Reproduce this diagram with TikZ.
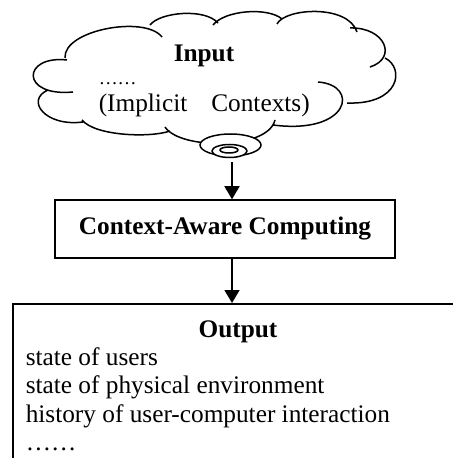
\documentclass[tikz,border=0pt]{standalone}
\usepackage{fontspec}
\setmainfont{Liberation Serif}
\usetikzlibrary{arrows.meta,shapes.geometric}
\begin{document}
\begin{tikzpicture}[x=1bp,y=-1bp,line width=1.5bp,
  txt/.style={inner sep=0pt,font=\fontsize{25.4}{28.5}\selectfont},
  btxt/.style={inner sep=0pt,font=\fontsize{25.4}{28.5}\selectfont\bfseries},
  bubble/.style={ellipse,draw,fill=white,inner sep=0pt},
  procbox/.style={draw,inner sep=0pt,minimum width=340bp,minimum height=58bp,font=\fontsize{25.4}{28.5}\selectfont\bfseries},
  flow/.style={-{Triangle[width=15bp,length=13bp]}}]
\useasboundingbox (0,0) rectangle (453,458);
\clip (0,0) rectangle (453,458);
% cloud outline
\draw (65,58) .. controls (63,30) and (145,15) .. (162,37)
      (150,25) .. controls (160,12) and (205,8) .. (218,23)
      (213,25) .. controls (225,10) and (268,7) .. (282,19)
      (277,24) .. controls (285,8) and (348,4) .. (357,32)
      (350,28) .. controls (385,27) and (398,58) .. (370,67)
      (385,58) .. controls (405,68) and (400,105) .. (347,103)
      (318,82) .. controls (360,85) and (350,135) .. (273,125)
      (275,120) .. controls (268,150) and (180,150) .. (165,127)
      (170,131) .. controls (150,138) and (95,136) .. (82,120)
      (83,122) .. controls (45,127) and (25,100) .. (48,90)
      (73,92) .. controls (20,97) and (22,55) .. (67,60);
% thought bubbles
\node[bubble,minimum width=61bp,minimum height=22bp] (bub1) at (230.5,145) {};
\node[bubble,minimum width=35bp,minimum height=13bp] (bub2) at (229.5,151) {};
\node[bubble,minimum width=18bp,minimum height=6bp] (bub3) at (229,150) {};
% cloud texts
\node[btxt,anchor=base west] (intitle) at (173,62) {Input};
\node[inner sep=0pt,font=\fontsize{19}{22}\selectfont,anchor=base west] (indots) at (98,85) {……};
\node[txt,anchor=base west] (inimpl) at (98,112) {(Implicit\hspace{24bp}Contexts)};
% process box
\node[procbox] (cac) at (225,229) {Context-Aware Computing};
% output box
\node[draw,inner sep=0pt,anchor=north west,minimum width=480bp,minimum height=200bp] (outbox) at (12,303) {};
\node[btxt,anchor=base] (outtitle) at (238,337) {Output};
\node[txt,anchor=base west] (o1) at (25,365) {state of users};
\node[txt,anchor=base west] (o2) at (25,393) {state of physical environment};
\node[txt,anchor=base west] (o3) at (25,422) {history of user-computer interaction};
\node[txt,anchor=base west] (o4) at (25,450) {……};
% arrows
\coordinate (ax) at (232,0);
\draw[flow] (bub2.south -| ax) ++(0,4) -- (cac.north -| ax);
\draw[flow] (cac.south -| ax) -- (outbox.north -| ax);
\end{tikzpicture}
\end{document}
